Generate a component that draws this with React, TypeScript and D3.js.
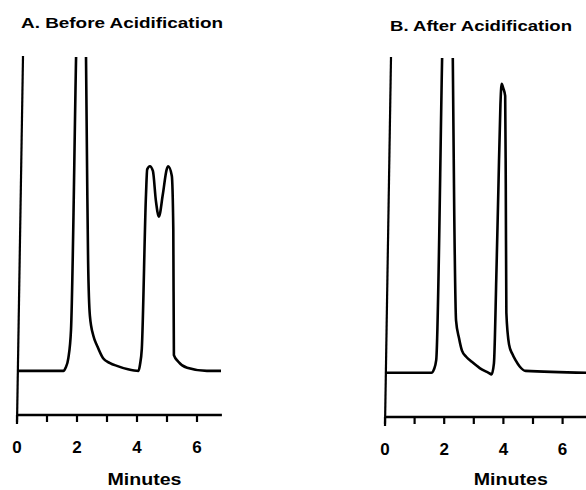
import React from "react";
import * as d3 from "d3";

// Panel A: Before Acidification (minutes, detector signal; baseline = 0, values > 100 are off-scale)
const beforeTime = [0, 1.55, 1.62, 1.71, 1.8, 1.97, 2.13, 2.3, 2.34, 2.37, 2.43, 2.55, 2.67, 2.87, 3.1, 3.33, 3.7, 4.05, 4.1, 4.16, 4.3, 4.34, 4.43, 4.53, 4.63, 4.73, 4.86, 4.99, 5.04, 5.16, 5.21, 5.23, 5.37, 5.67, 6.33, 6.8];
const beforeSignal = [0, 0, 1, 4, 13, 100, 175, 100, 60, 35, 17.5, 11, 8, 4, 2.5, 1.6, 0.5, 0, 2, 7, 56, 64, 65, 63.5, 54, 49, 56, 64, 65, 62, 45, 5, 3, 1, 0, 0];

// Panel B: After Acidification
const afterTime = [0, 1.5, 1.57, 1.65, 1.73, 1.93, 2.11, 2.29, 2.34, 2.4, 2.5, 2.6, 2.75, 2.93, 3.2, 3.5, 3.6, 3.68, 3.76, 3.83, 3.9, 3.94, 4.0, 4.06, 4.08, 4.1, 4.19, 4.3, 4.41, 4.55, 4.75, 7];
const afterSignal = [0, 0, 0, 1, 4, 100, 190, 100, 50, 16.6, 11, 7, 5, 3.5, 1.5, 0, -0.5, 3, 30, 58, 85, 91.5, 90, 87.7, 60, 19, 9, 6, 4, 2, 0.6, 0];

const minuteTicks = [0, 1, 2, 3, 4, 5, 6];
const labeledTicks = [0, 2, 4, 6];
const titles = ["A. Before Acidification", "B. After Acidification"];
const xLabel = "Minutes";

const FONT = "'Liberation Sans', Arial, Helvetica, sans-serif";

type PanelProps = {
  id: string;
  title: string;
  titleX: number;
  titleY: number;
  titleW: number;
  time: number[];
  signal: number[];
  x0: number;
  pxPerMin: number;
  axisTop: number;
  axisY: number;
  axisEnd: number;
};

function Panel({ id, title, titleX, titleY, titleW, time, signal, x0, pxPerMin, axisTop, axisY, axisEnd }: PanelProps) {
  const x = d3.scaleLinear().domain([0, 7]).range([x0, x0 + 7 * pxPerMin]);
  const y = d3.scaleLinear().domain([-14, 100]).range([axisY, axisTop]);
  const pts: [number, number][] = time.map((t, i) => [t, signal[i]]);
  const line = d3
    .line<[number, number]>()
    .x((d) => x(d[0]))
    .y((d) => y(d[1]))
    .curve(d3.curveMonotoneX);
  const path = line(pts) || "";
  return (
    <g>
      <defs>
        <clipPath id={id}>
          <rect x={x0 - 2} y={axisTop + 1} width={300} height={axisY - axisTop} />
        </clipPath>
      </defs>
      <text
        x={titleX}
        y={titleY}
        fontFamily={FONT}
        fontWeight="bold"
        fontSize={15.5}
        fill="#000"
        textLength={titleW}
        lengthAdjust="spacingAndGlyphs"
      >
        {title}
      </text>
      {/* y axis (slightly skewed as in the scanned original) */}
      <line x1={x(0) + 6} y1={axisTop} x2={x(0)} y2={axisY + 9} stroke="#000" strokeWidth={2.2} />
      {/* x axis */}
      <line x1={x(0)} y1={axisY} x2={x(axisEnd)} y2={axisY} stroke="#000" strokeWidth={2.4} />
      {minuteTicks.map((t) => (
        <line key={t} x1={x(t)} x2={x(t)} y1={axisY} y2={axisY + 7} stroke="#000" strokeWidth={2.2} />
      ))}
      {labeledTicks.map((t) => (
        <text
          key={t}
          x={x(t)}
          y={axisY + 38}
          textAnchor="middle"
          fontFamily={FONT}
          fontWeight="bold"
          fontSize={17}
          fill="#000"
        >
          {t}
        </text>
      ))}
      <text
        x={x(4.25)}
        y={485}
        textAnchor="middle"
        fontFamily={FONT}
        fontWeight="bold"
        fontSize={17}
        fill="#000"
        textLength={74}
        lengthAdjust="spacingAndGlyphs"
      >
        {xLabel}
      </text>
      <path d={path} fill="none" stroke="#000" strokeWidth={2.6} strokeLinejoin="round" clipPath={`url(#${id})`} />
    </g>
  );
}

export default function App() {
  return (
    <svg
      width={586}
      height={490}
      viewBox="0 0 586 490"
      style={{ position: "absolute", left: 0, top: 0, background: "#fff" }}
    >
      <rect x={0} y={0} width={586} height={490} fill="#fff" />
      <Panel
        id="clipA"
        title={titles[0]}
        titleX={21}
        titleY={28}
        titleW={202}
        time={beforeTime}
        signal={beforeSignal}
        x0={17}
        pxPerMin={30}
        axisTop={56}
        axisY={415}
        axisEnd={6.83}
      />
      <Panel
        id="clipB"
        title={titles[1]}
        titleX={390}
        titleY={31}
        titleW={182}
        time={afterTime}
        signal={afterSignal}
        x0={385}
        pxPerMin={29.6}
        axisTop={57}
        axisY={417}
        axisEnd={7}
      />
    </svg>
  );
}
